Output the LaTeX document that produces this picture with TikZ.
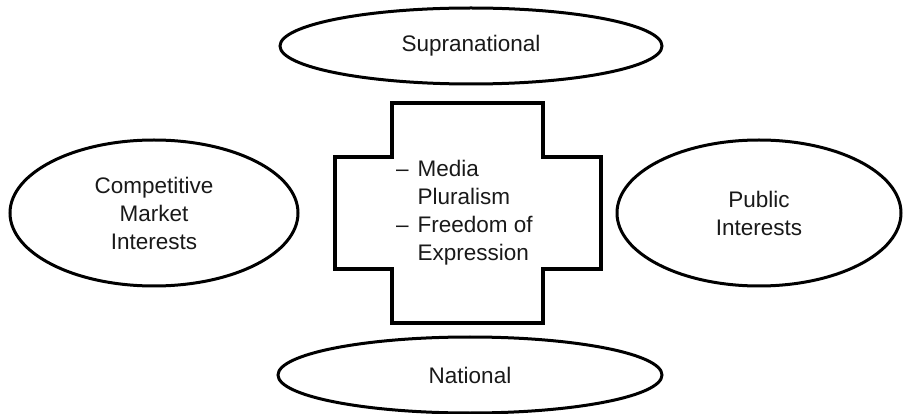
\documentclass[tikz,border=0pt]{standalone}
\usepackage{fontspec}
\setmainfont{Liberation Sans}
\usetikzlibrary{shapes.geometric}
\begin{document}
\begin{tikzpicture}[x=1pt,y=-1pt,
  txt/.style={font=\fontsize{22.5}{28}\selectfont, align=center, text=black!90},
  oval/.style={ellipse, draw=black, line width=3pt, inner sep=0pt, txt},
  crossline/.style={draw=black, line width=3.3pt, line join=miter}]
\useasboundingbox (0,0) rectangle (903,414);
\node[oval, minimum width=382pt, minimum height=76pt] (supra) at (471,46) {Supranational};
\node[oval, minimum width=384pt, minimum height=76pt] (nat) at (470,375) {National};
\node[oval, minimum width=288pt, minimum height=146pt] (comp) at (154,213) {Competitive\\Market\\Interests};
\node[oval, minimum width=284pt, minimum height=146pt] (pub) at (759,213) {Public\\Interests};
\draw[crossline] (392,103) -- (543,103) -- (543,157) -- (601,157) -- (601,269) -- (543,269)
  -- (543,323) -- (392,323) -- (392,269) -- (335,269) -- (335,157) -- (392,157) -- cycle;
\node[anchor=west, inner sep=0pt, font=\fontsize{22.5}{28}\selectfont, text=black!90] (core) at (396,213)
  {\begin{tabular}{@{}l@{\hspace{9pt}}l@{}}–&Media\\ &Pluralism\\ –&Freedom of\\ &Expression\end{tabular}};
\end{tikzpicture}
\end{document}
